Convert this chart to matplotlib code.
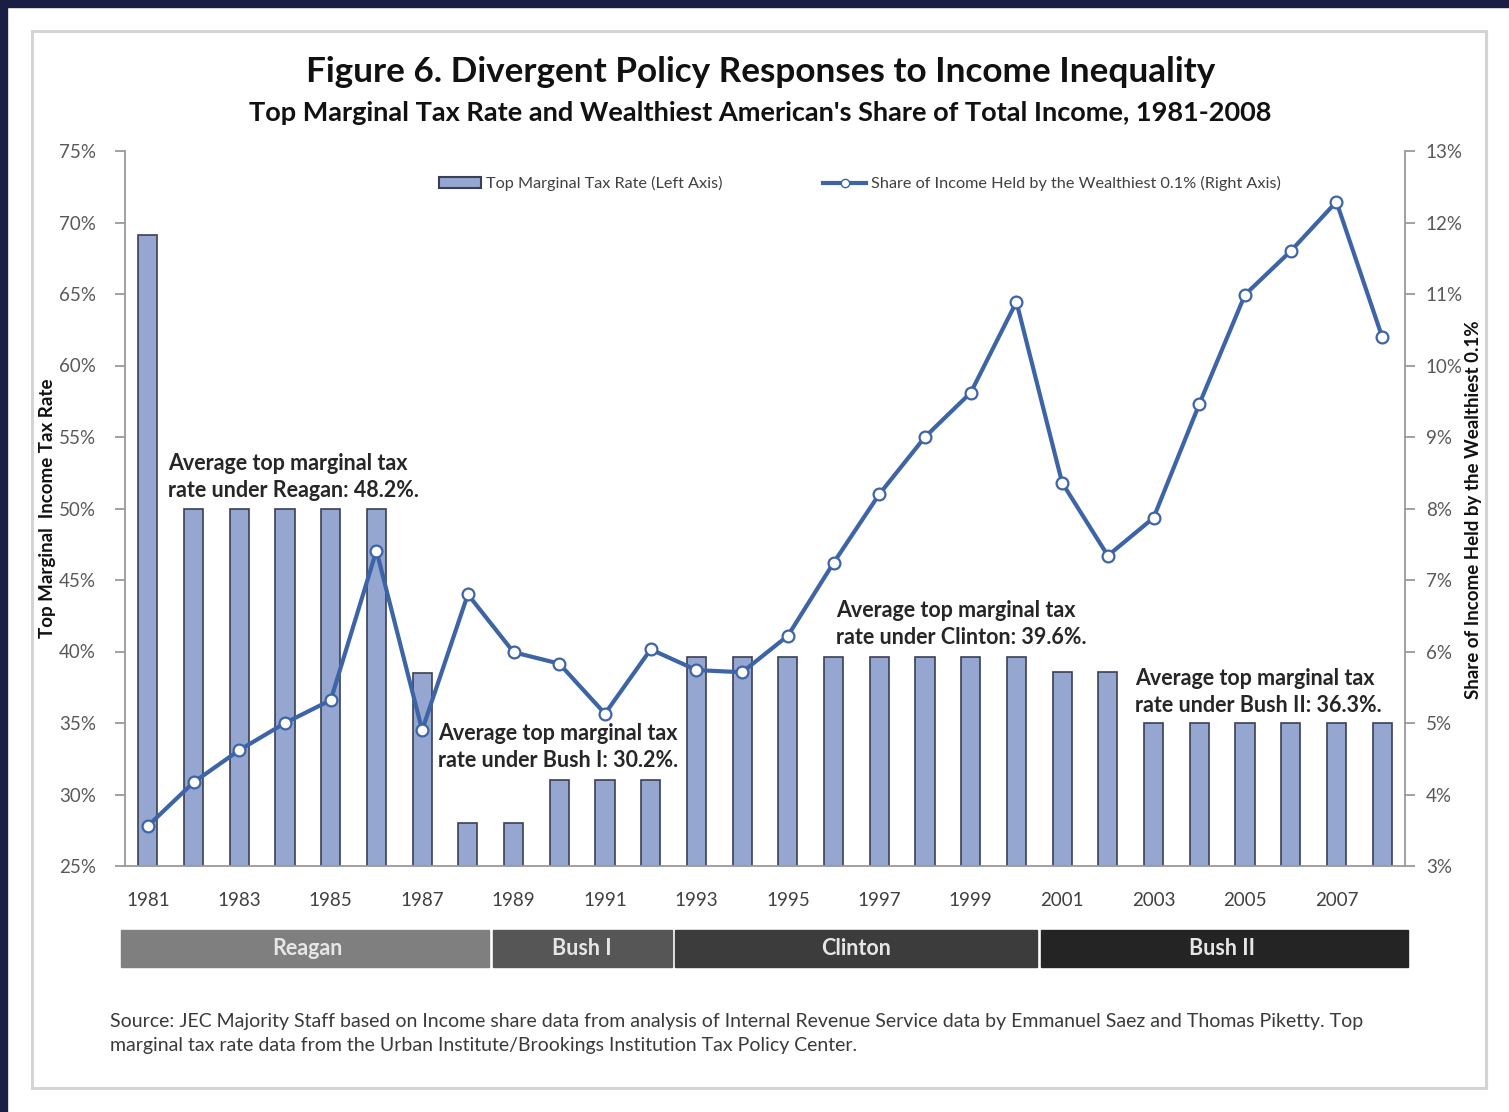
import matplotlib
matplotlib.use("Agg")
import matplotlib.pyplot as plt
from matplotlib.patches import Rectangle, Patch
from matplotlib.lines import Line2D
import matplotlib.transforms as mtransforms

plt.rcParams['font.family'] = ['Lato', 'DejaVu Sans']

years = list(range(1981, 2009))
top_rate = [69.1, 50, 50, 50, 50, 50, 38.5, 28, 28, 31, 31, 31,
            39.6, 39.6, 39.6, 39.6, 39.6, 39.6, 39.6, 39.6,
            38.6, 38.6, 35, 35, 35, 35, 35, 35]
top_share = [3.56, 4.17, 4.62, 5.00, 5.32, 7.41, 4.90, 6.80, 5.99, 5.83,
             5.13, 6.03, 5.74, 5.71, 6.22, 7.24, 8.20, 9.00, 9.62, 10.89,
             8.36, 7.34, 7.87, 9.46, 10.99, 11.60, 12.29, 10.40]

presidents = ['Reagan', 'Bush I', 'Clinton', 'Bush II']
terms = [(1981, 1988), (1989, 1992), (1993, 2000), (2001, 2008)]
term_colors = ['#7f7f7f', '#565656', '#3c3c3c', '#242424']

notes = ['Average top marginal tax\nrate under Reagan: 48.2%.',
         'Average top marginal tax\nrate under Bush I: 30.2%.',
         'Average top marginal tax\nrate under Clinton: 39.6%.',
         'Average top marginal tax\nrate under Bush II: 36.3%.']
note_pos = [(1981.45, 52.2), (1987.35, 33.3), (1996.05, 41.9), (2002.6, 37.2)]

bar_color = '#95a7d0'
line_color = '#3d64a6'
tick_color = '#595959'

fig = plt.figure(figsize=(15.09, 11.12), dpi=100)

# dark page edge and light chart frame
fig.patches.append(Rectangle((0, 1 - 7 / 1112), 1, 7 / 1112, transform=fig.transFigure,
                             color='#1a1d44', zorder=0))
fig.patches.append(Rectangle((0, 0), 7 / 1509, 1, transform=fig.transFigure,
                             color='#1a1d44', zorder=0))
fig.patches.append(Rectangle((32 / 1509, 1 - 1088 / 1112), 1454 / 1509, 1057 / 1112,
                             transform=fig.transFigure, fill=False,
                             edgecolor='#d4d4d4', lw=2.2, zorder=0))

ax = fig.add_axes([125 / 1509, 1 - 866 / 1112, 1280 / 1509, 715 / 1112])
ax2 = ax.twinx()

ax.bar(years, top_rate, width=0.42, color=bar_color, edgecolor='#3a3f55', lw=1.2, zorder=2)
ax.set_xlim(1980.5, 2008.5)
ax.set_ylim(25, 75)
ax.set_yticks(range(25, 80, 5))
ax.set_yticklabels([f'{v}%' for v in range(25, 80, 5)])

ax2.plot(years, top_share, color=line_color, lw=3, marker='o', ms=8.5,
         mfc='white', mec=line_color, mew=1.6, zorder=3)
ax2.set_ylim(3, 13)
ax2.set_yticks(range(3, 14))
ax2.set_yticklabels([f'{v}%' for v in range(3, 14)])

for a in (ax, ax2):
    a.spines['top'].set_visible(False)
    for s in ('left', 'right', 'bottom'):
        a.spines[s].set_color('#9a9a9a')
        a.spines[s].set_linewidth(1.3)
ax2.spines['left'].set_visible(False)
ax.spines['right'].set_visible(False)
ax2.spines['bottom'].set_visible(False)

ax.tick_params(axis='y', colors='#9a9a9a', labelcolor=tick_color, labelsize=13.5,
               length=7, width=1.3, pad=14)
ax2.tick_params(axis='y', colors='#9a9a9a', labelcolor=tick_color, labelsize=13.5,
                length=7, width=1.3, pad=8)
ax.set_xticks(years[::2])
ax.set_xticklabels([str(y) for y in years[::2]])
ax.tick_params(axis='x', length=0, labelsize=13.5, labelcolor='#404040', pad=19)

fig.text(48 / 1509, 1 - 508 / 1112, 'Top Marginal  Income Tax Rate', rotation=90,
         fontsize=13.5, fontweight='bold', color='#111111', ha='center', va='center')
fig.text(1473 / 1509, 1 - 510 / 1112, 'Share of Income Held by the Wealthiest 0.1%',
         rotation=90, fontsize=13.5, fontweight='bold', color='#111111',
         ha='center', va='center')

for txt, (x, y) in zip(notes, note_pos):
    ax.text(x, y, txt, fontsize=15.5, fontweight='bold', color='#262626',
            ha='left', va='center', linespacing=1.35, zorder=5)

handles = [Patch(facecolor=bar_color, edgecolor='#3a3f55', lw=1.5),
           Line2D([], [], color=line_color, lw=3, marker='o', ms=6,
                  mfc='white', mec=line_color)]
leg = ax.legend(handles, ['Top Marginal Tax Rate (Left Axis)',
                          'Share of Income Held by the Wealthiest 0.1% (Right Axis)'],
                ncol=2, loc='upper center', bbox_to_anchor=(0.574, 0.985),
                frameon=False, fontsize=11.7, columnspacing=6.2, handlelength=2.6,
                handletextpad=0.3)
for t in leg.get_texts():
    t.set_color('#404040')

# presidential terms strip under the axis
trans = mtransforms.blended_transform_factory(ax.transData, fig.transFigure)
y0 = 1 - 967 / 1112
h = 37 / 1112
for i, (name, (a, b), c) in enumerate(zip(presidents, terms, term_colors)):
    left = a - 0.5 + (0.04 if i else -0.09)
    right = b + 0.5 - (0.04 if i < len(terms) - 1 else -0.07)
    ax.add_patch(Rectangle((left, y0), right - left, h, transform=trans,
                           color=c, clip_on=False, zorder=1))
    ax.text((a + b) / 2, y0 + h / 2, name, transform=trans, ha='center', va='center',
            color='#e6e6e6', fontsize=15.5, fontweight='bold')

fig.text(0.504, 1 - 72 / 1112, 'Figure 6. Divergent Policy Responses to Income Inequality',
         ha='center', va='center', fontsize=25.3, fontweight='bold', color='#111111')
fig.text(0.504, 1 - 113 / 1112,
         "Top Marginal Tax Rate and Wealthiest American's Share of Total Income, 1981-2008",
         ha='center', va='center', fontsize=19.5, fontweight='bold', color='#111111')

fig.text(110 / 1509, 1 - 1021 / 1112,
         'Source: JEC Majority Staff based on Income share data from analysis of Internal '
         'Revenue Service data by Emmanuel Saez and Thomas Piketty. Top',
         ha='left', va='center', fontsize=14, color='#3a3a3a')
fig.text(110 / 1509, 1 - 1046 / 1112,
         'marginal tax rate data from the Urban Institute/Brookings Institution Tax Policy Center.',
         ha='left', va='center', fontsize=14, color='#3a3a3a')

fig.savefig('out.png', dpi=100)
